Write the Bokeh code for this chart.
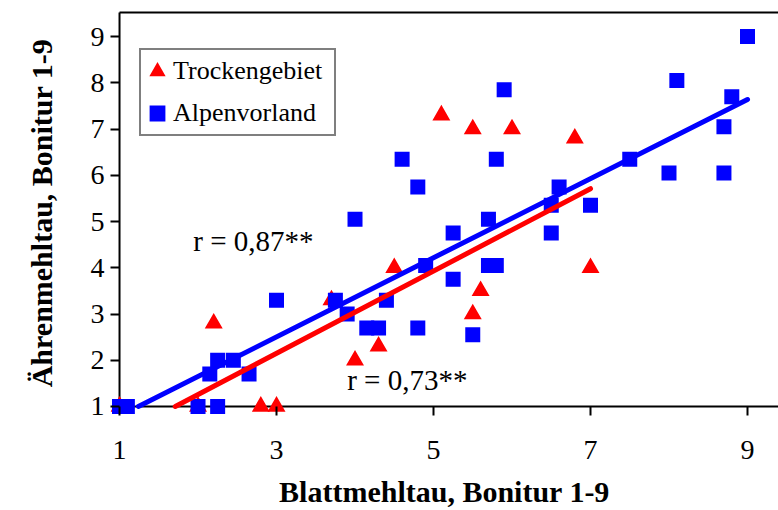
from bokeh.plotting import figure
from bokeh.models import Range1d, FixedTicker, Legend, LegendItem
from bokeh.core.properties import value
from bokeh.embed import file_html
from bokeh.resources import INLINE

# Scores (1-9) per variety: leaf mildew (x) vs. ear mildew (y)
trocken_blatt = [1.0, 2.0, 2.8, 3.0, 2.2, 3.7, 4.0, 4.3, 4.5, 5.1, 5.5, 6.0, 6.8, 5.5, 5.6, 7.0]
trocken_aehre = [1.0, 1.0, 1.0, 1.0, 2.8, 3.3, 2.0, 2.3, 4.0, 7.3, 7.0, 7.0, 6.8, 3.0, 3.5, 4.0]

alpen_blatt = [1.0, 1.1, 2.0, 2.25, 2.15, 2.65, 2.25, 2.45, 3.0, 3.75, 3.9, 4.4, 4.15, 4.3,
               4.8, 4.0, 4.6, 4.8, 4.9, 5.25, 5.25, 5.5, 5.7, 5.7, 5.8, 5.8, 5.9, 6.5,
               6.5, 6.6, 7.0, 7.5, 8.0, 8.1, 8.7, 8.7, 8.8, 9.0]
alpen_aehre = [1.0, 1.0, 1.0, 1.0, 1.7, 1.7, 2.0, 2.0, 3.3, 3.3, 3.0, 3.3, 2.7, 2.7,
               2.7, 5.05, 6.35, 5.75, 4.05, 4.75, 3.75, 2.55, 5.05, 4.05, 4.05, 6.35, 7.85, 5.35,
               4.75, 5.75, 5.35, 6.35, 6.05, 8.05, 7.05, 6.05, 7.7, 9.0]

# Linear regression lines (drawn from where they meet the axis minimum)
trocken_fit_x = [1.71, 7.0]
trocken_fit_y = [1.0, 5.71]
alpen_fit_x = [1.24, 9.0]
alpen_fit_y = [1.0, 7.64]

r_labels = ["r = 0,87**", "r = 0,73**"]

x_ticks = [1, 3, 5, 7, 9]
y_ticks = [1, 2, 3, 4, 5, 6, 7, 8, 9]

RED = "#FF0000"
BLUE = "#0000FF"
SERIF = "Liberation Serif"

# axis crossing point and top border of the plot area
X0, Y0 = 1.0, 1.0
X_END, Y_TOP = 9.395, 9.52

p = figure(width=778, height=510, output_backend="svg", toolbar_location=None,
           x_range=Range1d(0.885, X_END), y_range=Range1d(0.805, 9.565),
           min_border_left=110, min_border_right=0, min_border_top=10,
           min_border_bottom=95)
p.outline_line_color = None
p.grid.visible = False
p.background_fill_color = "white"
p.border_fill_color = "white"

p.xaxis.ticker = FixedTicker(ticks=x_ticks)
p.yaxis.ticker = FixedTicker(ticks=y_ticks)
p.xaxis.axis_label = "Blattmehltau, Bonitur 1-9"
p.yaxis.axis_label = "Ährenmehltau, Bonitur 1-9"
for ax in (p.xaxis[0], p.yaxis[0]):
    ax.axis_line_color = None
    ax.major_tick_in = 9
    ax.major_tick_out = 0
    ax.major_tick_line_width = 2
    ax.major_tick_line_color = "black"
    ax.minor_tick_line_color = None
    ax.major_label_text_font = SERIF
    ax.major_label_text_font_size = "28px"
    ax.major_label_text_color = "black"
    ax.axis_label_text_font = SERIF
    ax.axis_label_text_font_style = "bold"
    ax.axis_label_text_font_size = "30px"
    ax.axis_label_text_color = "black"
p.xaxis.major_label_standoff = 25
p.xaxis.axis_label_standoff = 13
p.yaxis.major_label_standoff = 6
p.yaxis.axis_label_standoff = 30

# axis lines crossing at (1, 1) and the top border
p.segment(x0=[X0, X0, X0], y0=[Y0, Y0, Y_TOP], x1=[X0, X_END, X_END], y1=[Y_TOP, Y0, Y_TOP],
          line_color="black", line_width=2)

# markers get a same-coloured outline (also enlarges the legend swatches)
tri = p.scatter(trocken_blatt, trocken_aehre, marker="triangle", size=14.5,
                fill_color=RED, line_color=RED, line_width=2, line_join="miter")
sq = p.scatter(alpen_blatt, alpen_aehre, marker="square", size=12,
               fill_color=BLUE, line_color=BLUE, line_width=3, line_join="miter")

p.line(alpen_fit_x, alpen_fit_y, line_color=BLUE, line_width=5, line_cap="round")
p.line(trocken_fit_x, trocken_fit_y, line_color=RED, line_width=5, line_cap="round")

p.text(x=[1.94], y=[4.59], text=[r_labels[0]], text_font=value(SERIF),
       text_font_size="29px", text_baseline="middle", text_align="left", text_color="black")
p.text(x=[3.9], y=[1.58], text=[r_labels[1]], text_font=value(SERIF),
       text_font_size="29px", text_baseline="middle", text_align="left", text_color="black")

legend = Legend(items=[LegendItem(label="Trockengebiet", renderers=[tri]),
                       LegendItem(label="Alpenvorland", renderers=[sq])],
                location=(29, 279), glyph_width=32, glyph_height=42, padding=0,
                spacing=0, label_standoff=0, label_width=161, margin=0,
                label_text_font=SERIF, label_text_font_size="26px",
                label_text_color="black",
                border_line_color="black", border_line_width=2,
                background_fill_color="white", background_fill_alpha=1.0)
p.add_layout(legend)

open("out.html", "w").write(file_html(p, INLINE))
